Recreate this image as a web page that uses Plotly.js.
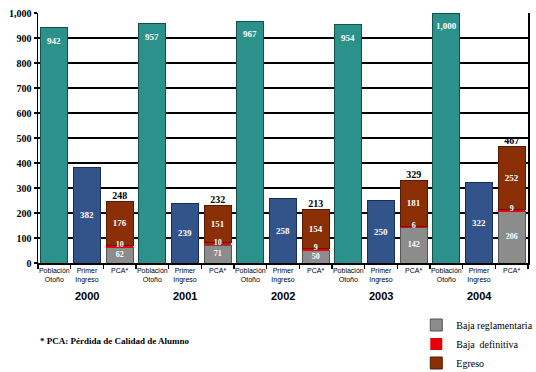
<!DOCTYPE html>
<html>
<head>
<meta charset="utf-8">
<script src="https://cdn.plot.ly/plotly-3.0.1.min.js"></script>
<style>html,body{margin:0;padding:0;background:#fff;}#chart{width:536px;height:372px;}</style>
</head>
<body>
<div id="chart"></div>
<script>
const years = ['2000', '2001', '2002', '2003', '2004'];
const categoryLabels = ['Población<br>Otoño', 'Primer<br>Ingreso', 'PCA*'];
const poblacionOtono = [942, 957, 967, 954, 1000];
const primerIngreso = [382, 239, 258, 250, 322];
const bajaReglamentaria = [62, 71, 50, 142, 206];
const bajaDefinitiva = [10, 10, 9, 6, 9];
const egreso = [176, 151, 154, 181, 252];
const pcaTotal = [248, 232, 213, 329, 467];

const n = years.length;
const xPob = years.map((_, i) => 3 * i);
const xPri = years.map((_, i) => 3 * i + 1);
const xPca = years.map((_, i) => 3 * i + 2);

const serif = 'Liberation Serif, Times New Roman, serif';
const narrow = 'Liberation Sans Narrow, Arial Narrow, Liberation Sans, sans-serif';
const fmt = v => v.toLocaleString('en-US');
const whiteText = {family: serif, size: 9, color: '#ffffff', weight: 'bold'};
const smallWhite = {family: serif, size: 8, color: '#ffffff', weight: 'bold'};

const traces = [
  {type: 'bar', x: xPob, y: poblacionOtono, showlegend: false, hoverinfo: 'skip',
   marker: {color: '#2b918a', line: {color: '#14514d', width: 1}}},
  {type: 'bar', x: xPri, y: primerIngreso, showlegend: false, hoverinfo: 'skip',
   marker: {color: '#33548a', line: {color: '#1b2f55', width: 1}},
   text: primerIngreso.map(fmt), textposition: 'inside', insidetextanchor: 'middle',
   textfont: whiteText, textangle: 0, constraintext: 'none'},
  {type: 'bar', x: xPca, y: bajaReglamentaria, name: 'Baja reglamentaria',
   marker: {color: '#8c8c8c', line: {color: '#555555', width: 1}}, textposition: 'none'},
  {type: 'bar', x: xPca, y: bajaDefinitiva, name: 'Baja  definitiva',
   marker: {color: '#e8000b', line: {width: 0}}, textposition: 'none'},
  {type: 'bar', x: xPca, y: egreso, name: 'Egreso',
   marker: {color: '#8a2e06', line: {color: '#5a1a02', width: 1}},
   text: egreso.map(fmt), textposition: 'inside', insidetextanchor: 'middle',
   textfont: whiteText, textangle: 0, constraintext: 'none'},
  {type: 'scatter', mode: 'text', x: xPca, y: pcaTotal, showlegend: false, hoverinfo: 'skip',
   text: pcaTotal.map(fmt), textposition: 'top center',
   textfont: {family: serif, size: 10, color: '#000000', weight: 'bold'}, cliponaxis: false},
  {type: 'scatter', mode: 'text', x: xPca, y: bajaReglamentaria.map((v, i) => v + bajaDefinitiva[i]),
   showlegend: false, hoverinfo: 'skip',
   text: bajaDefinitiva.map(fmt), textposition: 'middle center',
   textfont: smallWhite, cliponaxis: false},
  {type: 'scatter', mode: 'text', x: xPca, y: bajaReglamentaria.map(v => v / 2),
   showlegend: false, hoverinfo: 'skip',
   text: bajaReglamentaria.map(fmt), textposition: 'middle center',
   textfont: smallWhite, cliponaxis: false}
];

const tickvals = [];
const ticktext = [];
for (let i = 0; i < n; i++) {
  for (let j = 0; j < 3; j++) { tickvals.push(3 * i + j); ticktext.push(categoryLabels[j]); }
}
const bounds = [];
for (let k = 0; k <= 3 * n; k++) bounds.push(k - 0.5);

const annotations = years.map((yr, i) => ({
  text: '<b>' + yr + '</b>', x: 3 * i + 1, xref: 'x', y: -0.132, yref: 'paper',
  showarrow: false, font: {family: 'Liberation Sans, Arial, sans-serif', size: 11, color: '#000'},
  xanchor: 'center', yanchor: 'middle'
}));
poblacionOtono.forEach((v, i) => annotations.push({
  text: fmt(v), x: xPob[i], xref: 'x', y: v, yref: 'y', yshift: -13,
  showarrow: false, xanchor: 'center', yanchor: 'middle', font: whiteText
}));
annotations.push({
  text: '<b>* PCA: Pérdida de Calidad de Alumno</b>', x: 0, xref: 'paper', y: -0.31, yref: 'paper',
  showarrow: false, xanchor: 'left', yanchor: 'middle',
  font: {family: serif, size: 9, color: '#000'}
});

const layout = {
  width: 536, height: 372,
  margin: {l: 38, r: 8, t: 13, b: 109, autoexpand: false},
  paper_bgcolor: '#ffffff', plot_bgcolor: '#ffffff',
  barmode: 'stack', bargap: 0.17,
  showlegend: true,
  legend: {x: 0.772, y: -0.19, xanchor: 'left', yanchor: 'top', traceorder: 'normal',
           font: {family: serif, size: 10, color: '#000'}, tracegroupgap: 0, itemwidth: 30,
           bgcolor: 'rgba(0,0,0,0)'},
  xaxis: {range: [-0.5, 14.5], tickvals: tickvals, ticktext: ticktext, ticks: '',
          tickfont: {family: narrow, size: 7, color: '#000'}, showgrid: false, zeroline: false,
          showline: true, linecolor: '#000', linewidth: 1.5, fixedrange: true,
          minor: {tickvals: bounds, ticks: 'outside', ticklen: 4, tickcolor: '#000', tickwidth: 1.5, showgrid: false}},
  yaxis: {range: [0, 1000], dtick: 100, tickformat: ',', ticks: 'outside', ticklen: 3,
          tickcolor: '#000', tickwidth: 1.5,
          tickfont: {family: serif, size: 10, color: '#000', weight: 'bold'},
          showgrid: true, gridcolor: '#000', gridwidth: 1.5, zeroline: false,
          showline: true, linecolor: '#000', linewidth: 1.5, mirror: true, fixedrange: true},
  annotations: annotations
};

Plotly.newPlot('chart', traces, layout, {displayModeBar: false, staticPlot: true});
</script>
</body>
</html>
